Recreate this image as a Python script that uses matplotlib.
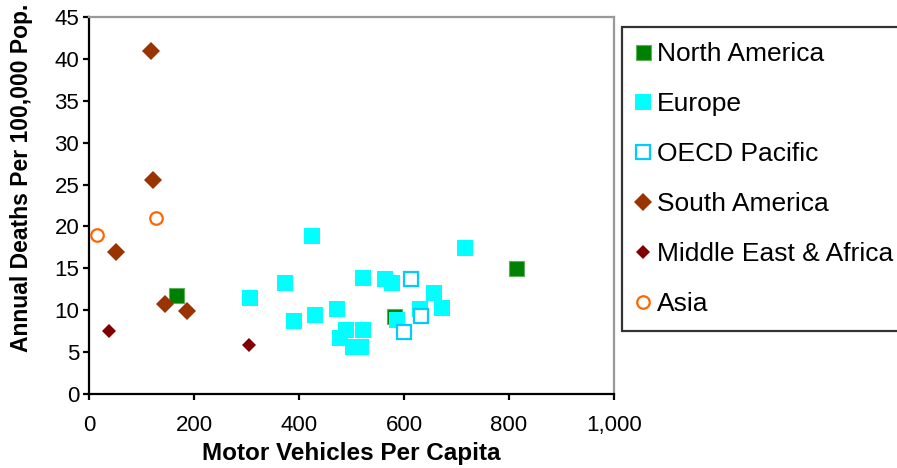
import matplotlib
matplotlib.use("Agg")
import matplotlib.pyplot as plt
from matplotlib.ticker import FuncFormatter, MultipleLocator

plt.rcParams['font.family'] = ['Liberation Sans', 'DejaVu Sans']

# Motor vehicles per capita (x) vs. annual road deaths per 100,000 population (y)
na_x = [166, 813, 581]
na_y = [11.8, 15.0, 9.3]

eu_x = [424, 717, 373, 521, 564, 578, 658, 473, 631, 673, 431, 391, 587,
        490, 522, 479, 502, 518, 307]
eu_y = [18.9, 17.4, 13.2, 13.8, 13.7, 13.2, 12.0, 10.1, 10.1, 10.3, 9.4, 8.7, 8.8,
        7.6, 7.6, 6.7, 5.6, 5.6, 11.4]

oecd_x = [613, 633, 600]
oecd_y = [13.7, 9.3, 7.4]

sa_x = [118, 122, 51, 145, 186]
sa_y = [41.0, 25.5, 16.9, 10.7, 9.9]

mea_x = [39, 304]
mea_y = [7.5, 5.9]

asia_x = [16, 128]
asia_y = [19.0, 21.0]

fig = plt.figure(figsize=(8.97, 4.68), dpi=100)
ax = fig.add_axes([89 / 897, 74 / 468, 525 / 897, 377 / 468])

ax.plot(na_x, na_y, ls='none', marker='s', ms=10.8, mfc='#008000', mec='#5fae5f',
        mew=0.8, label='North America', zorder=3)
ax.plot(eu_x, eu_y, ls='none', marker='s', ms=12.2, mfc='#00FFFF', mec='#00FFFF',
        mew=0, label='Europe', zorder=4)
ax.plot(oecd_x, oecd_y, ls='none', marker='s', ms=9.4, mfc='white', mec='#00CCFF',
        mew=1.6, label='OECD Pacific', zorder=5)
ax.plot(sa_x, sa_y, ls='none', marker='D', ms=9.2, mfc='#993300', mec='#993300',
        mew=0, label='South America', zorder=6)
ax.plot(mea_x, mea_y, ls='none', marker='D', ms=7.6, mfc='#800000', mec='#800000',
        mew=0, label='Middle East & Africa', zorder=7)
ax.plot(asia_x, asia_y, ls='none', marker='o', ms=9.0, mfc='white', mec='#FF6600',
        mew=1.6, label='Asia', zorder=8)

ax.set_xlim(0, 1000)
ax.set_ylim(0, 45)
ax.xaxis.set_major_locator(MultipleLocator(200))
ax.yaxis.set_major_locator(MultipleLocator(5))
ax.xaxis.set_major_formatter(FuncFormatter(lambda v, p: f"{int(v):,}"))

for side in ('left', 'bottom'):
    ax.spines[side].set_color('black')
    ax.spines[side].set_linewidth(1.6)
for side in ('top', 'right'):
    ax.spines[side].set_color('#999999')
    ax.spines[side].set_linewidth(1.6)

ax.tick_params(axis='both', direction='out', length=4, width=1.6, labelsize=16,
               colors='black')
ax.tick_params(axis='x', pad=11)
ax.tick_params(axis='y', pad=3)

ax.set_xlabel('Motor Vehicles Per Capita', fontsize=17.5, fontweight='bold')
ax.set_ylabel('Annual Deaths Per 100,000 Pop.', fontsize=16.5, fontweight='bold')
ax.xaxis.set_label_coords(0.5, -0.128)
ax.yaxis.set_label_coords(-0.106, 0.573)

leg = fig.legend(loc='upper left', bbox_to_anchor=(622 / 897, 1 - 27 / 468),
                 fontsize=19, frameon=True, fancybox=False, borderpad=0.56,
                 labelspacing=0.99, handlelength=0.5, handletextpad=0.26,
                 borderaxespad=0, numpoints=1)
frame = leg.get_frame()
frame.set_edgecolor('black')
frame.set_linewidth(1.6)

fig.savefig('out.png', dpi=100)
